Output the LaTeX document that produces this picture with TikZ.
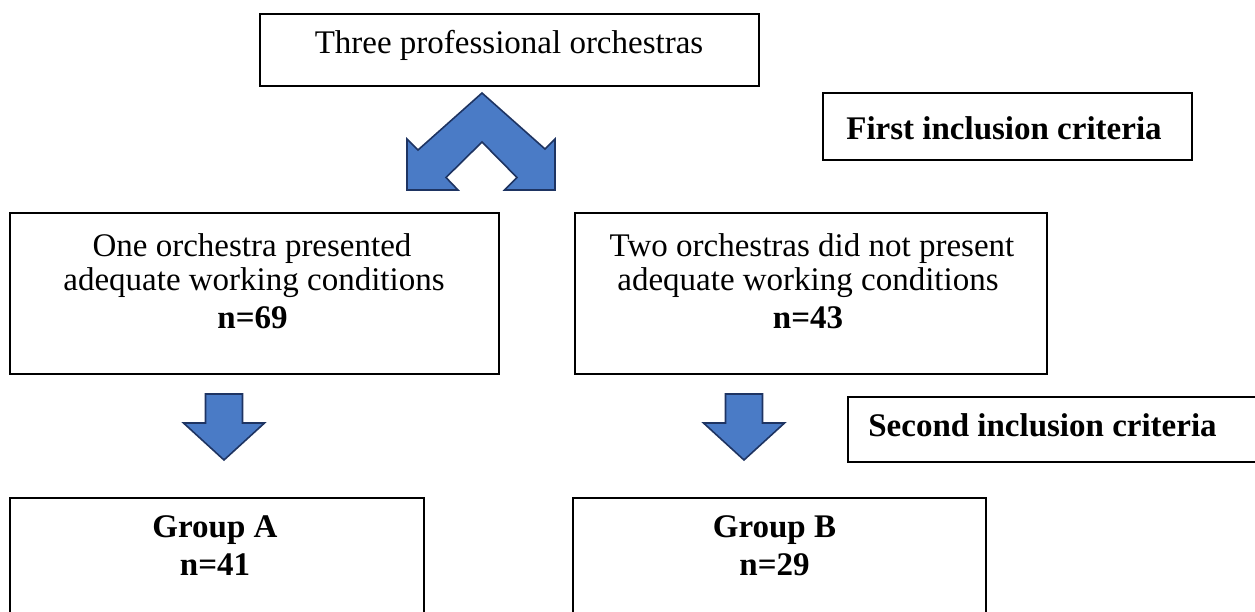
\documentclass[tikz,border=0pt]{standalone}
\usepackage{fontspec}
\setmainfont{Liberation Serif}
\definecolor{arrowfill}{HTML}{4A7BC6}
\definecolor{arrowline}{HTML}{1E3462}
\begin{document}
\begin{tikzpicture}[x=1pt,y=-1pt,
  box/.style={draw=black, line width=2pt, inner sep=0pt},
  lbl/.style={align=center, inner sep=0pt, font=\fontsize{33}{33}\selectfont},
  blbl/.style={align=center, inner sep=0pt, font=\fontsize{33}{38}\selectfont\bfseries},
  bluearrow/.style={fill=arrowfill, draw=arrowline, line width=1.6pt, line join=miter}]
\useasboundingbox (0,0) rectangle (1255,611);
\clip (0,0) rectangle (1255,611);
% boxes
\node[box, minimum width=499pt, minimum height=72pt] (top) at (509.5,50) {};
\node[box, minimum width=369pt, minimum height=67pt] (crit1) at (1007.5,126.5) {};
\node[box, minimum width=489pt, minimum height=161pt] (midL) at (254.5,293.5) {};
\node[box, minimum width=472pt, minimum height=161pt] (midR) at (811,293.5) {};
\node[box, minimum width=427pt, minimum height=65pt] (crit2) at (1061.5,429.5) {};
\node[box, minimum width=414pt, minimum height=142pt] (grpA) at (217,569) {};
\node[box, minimum width=413pt, minimum height=142pt] (grpB) at (779.5,569) {};
% texts
\node[lbl, anchor=base] (topT) at (509,53) {Three professional orchestras};
\node[blbl, anchor=base] (crit1T) at (1004,139) {First inclusion criteria};
\node[lbl, anchor=base] (midLT1) at (252,256) {One orchestra presented};
\node[lbl, anchor=base] (midLT2) at (254,290) {adequate working conditions};
\node[blbl, anchor=base] (midLT3) at (252.5,328) {n=69};
\node[lbl, anchor=base] (midRT1) at (812,256) {Two orchestras did not present};
\node[lbl, anchor=base] (midRT2) at (808,290) {adequate working conditions};
\node[blbl, anchor=base] (midRT3) at (808,328) {n=43};
\node[blbl, anchor=base] (crit2T) at (1042.5,436) {Second inclusion criteria};
\node[blbl, anchor=base] (grpAT1) at (215,537) {Group A};
\node[blbl, anchor=base] (grpAT2) at (215,575) {n=41};
\node[blbl, anchor=base] (grpBT1) at (774.5,537) {Group B};
\node[blbl, anchor=base] (grpBT2) at (774.5,575) {n=29};
% split chevron arrow
\draw[bluearrow] (482,93) -- (545,149) -- (555,139) -- (555,190) -- (504.5,190)
  -- (517,177.5) -- (482,142) -- (446,177.5) -- (458,190) -- (407,190)
  -- (407,139) -- (418,150) -- cycle;
% down arrows
\draw[bluearrow] (205.5,394) -- (242.5,394) -- (242.5,423) -- (264.5,423)
  -- (224,460) -- (183.5,423) -- (205.5,423) -- cycle;
\draw[bluearrow] (725.5,394) -- (762.5,394) -- (762.5,423) -- (784.5,423)
  -- (744,460) -- (703.5,423) -- (725.5,423) -- cycle;
\end{tikzpicture}
\end{document}
